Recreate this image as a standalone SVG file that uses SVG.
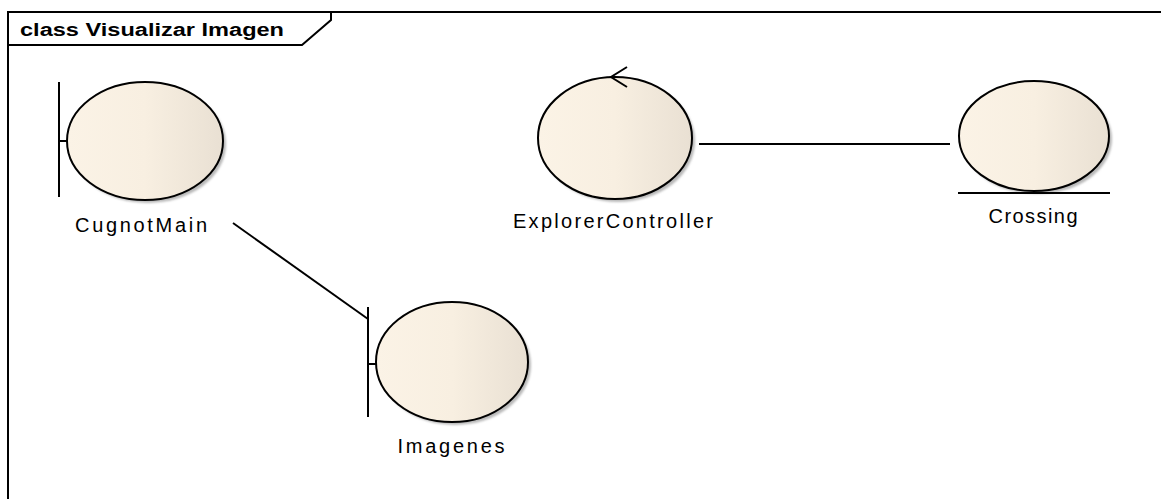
<svg xmlns="http://www.w3.org/2000/svg" width="1161" height="499" viewBox="0 0 1161 499">
  <defs>
    <linearGradient id="bodyFill" x1="0" y1="0" x2="1" y2="0">
      <stop offset="0" stop-color="#fbf3e6"/>
      <stop offset="0.5" stop-color="#f8efe1"/>
      <stop offset="1" stop-color="#e9e0d3"/>
    </linearGradient>
    <filter id="soft" x="-10%" y="-10%" width="120%" height="120%">
      <feGaussianBlur stdDeviation="1.2"/>
    </filter>
  </defs>
  <style>
    .frame { fill: none; stroke: #000; stroke-width: 2; }
    .shadow { fill: #b9b9b9; filter: url(#soft); }
    .body { fill: url(#bodyFill); stroke: #000; stroke-width: 2; }
    .mark { fill: none; stroke: #000; stroke-width: 2; }
    .edge { fill: none; stroke: #000; stroke-width: 2; }
    .title { font-family: "Liberation Sans", Arial, sans-serif; font-weight: bold; font-size: 18px; fill: #000; }
    .label { font-family: "Liberation Sans", Arial, sans-serif; font-size: 20px; fill: #000; text-anchor: middle; }
  </style>

  <rect x="0" y="0" width="1161" height="499" fill="#fff"/>

  <!-- diagram frame with name tab -->
  <g id="frame">
    <path class="frame" d="M1161,12 H8 V499"/>
    <path class="frame" d="M8,45 H302 L331,20 V12"/>
    <text class="title" x="20" y="36" textLength="264" lengthAdjust="spacingAndGlyphs">class Visualizar Imagen</text>
  </g>

  <!-- connectors -->
  <g id="connectors">
    <line class="edge" x1="233" y1="223" x2="368" y2="319"/>
    <line class="edge" x1="699" y1="144" x2="950" y2="144"/>
  </g>

  <!-- boundary: CugnotMain -->
  <g id="CugnotMain">
    <ellipse class="shadow" cx="148" cy="144" rx="78" ry="59"/>
    <ellipse class="body" cx="145" cy="141" rx="78" ry="59"/>
    <path class="mark" d="M59,82 V197 M59,141 H67"/>
    <text class="label" x="141" y="232" textLength="132" lengthAdjust="spacing">CugnotMain</text>
  </g>

  <!-- control: ExplorerController -->
  <g id="ExplorerController">
    <ellipse class="shadow" cx="618" cy="141" rx="77" ry="61"/>
    <ellipse class="body" cx="615" cy="138" rx="77" ry="61"/>
    <path class="mark" d="M627,67 L611,77 L627,87"/>
    <text class="label" x="613" y="228" textLength="200" lengthAdjust="spacing">ExplorerController</text>
  </g>

  <!-- entity: Crossing -->
  <g id="Crossing">
    <ellipse class="shadow" cx="1037" cy="139" rx="75" ry="55"/>
    <ellipse class="body" cx="1034" cy="136" rx="75" ry="55"/>
    <line class="mark" x1="958" y1="193" x2="1110" y2="193"/>
    <text class="label" x="1033" y="223" textLength="89" lengthAdjust="spacing">Crossing</text>
  </g>

  <!-- boundary: Imagenes -->
  <g id="Imagenes">
    <ellipse class="shadow" cx="455" cy="365" rx="76" ry="60"/>
    <ellipse class="body" cx="452" cy="362" rx="76" ry="60"/>
    <path class="mark" d="M368,307 V417 M368,364 H376"/>
    <text class="label" x="451" y="453" textLength="107" lengthAdjust="spacing">Imagenes</text>
  </g>
</svg>
